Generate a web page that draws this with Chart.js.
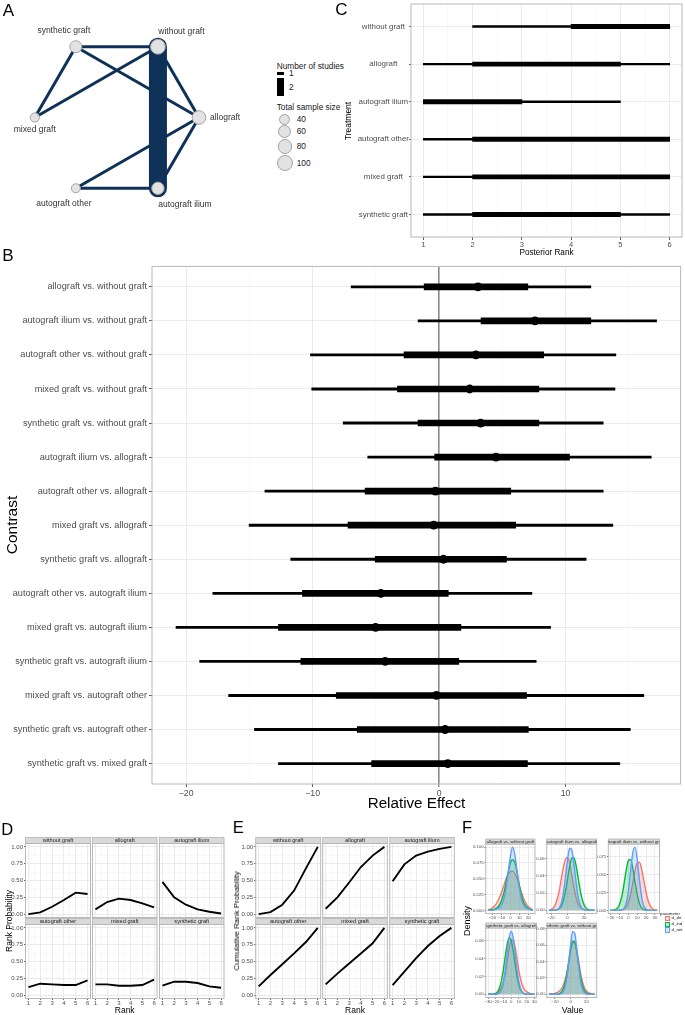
<!DOCTYPE html>
<html>
<head>
<meta charset="utf-8">
<script src="https://cdn.jsdelivr.net/npm/chart.js@4.4.1/dist/chart.umd.min.js"></script>
<style>
  html, body { margin:0; padding:0; background:#fff; }
  body { position:relative; width:685px; height:1015px; overflow:hidden; font-family:"Liberation Sans", Arial, sans-serif; }
  .box { position:absolute; }
  .box canvas { display:block; }
  .t { position:absolute; white-space:nowrap; line-height:1; transform:translate(-50%,-50%); color:#000; }
</style>
</head>
<body>
<script>
// ================= DATA =================
// Panel A: network
const nodeNames = ['allograft','without graft','synthetic graft','mixed graft','autograft other','autograft ilium'];
const nodeSampleSize = [95,110,75,40,38,80];
const edgeFrom = ['without graft','synthetic graft','synthetic graft','mixed graft','without graft','allograft','allograft','autograft other','without graft'];
const edgeTo   = ['synthetic graft','allograft','mixed graft','without graft','allograft','autograft ilium','autograft other','autograft ilium','autograft ilium'];
const edgeStudies = [1,1,1,1,1,1,1,1,2];
const legendStudies = [1,2];
const legendSampleSizes = [40,60,80,100];

// Panel B: relative effects
const contrasts = ['allograft vs. without graft','autograft ilium vs. without graft','autograft other vs. without graft','mixed graft vs. without graft','synthetic graft vs. without graft','autograft ilium vs. allograft','autograft other vs. allograft','mixed graft vs. allograft','synthetic graft vs. allograft','autograft other vs. autograft ilium','mixed graft vs. autograft ilium','synthetic graft vs. autograft ilium','mixed graft vs. autograft other','synthetic graft vs. autograft other','synthetic graft vs. mixed graft'];
const effLo95 = [-6.95,-1.66,-10.17,-10.07,-7.58,-5.64,-13.77,-15.02,-11.73,-17.89,-20.8,-18.93,-16.64,-14.6,-12.7];
const effLo80 = [-1.18,3.32,-2.77,-3.29,-1.66,-0.35,-5.85,-7.2,-5.05,-10.8,-12.7,-10.93,-8.13,-6.47,-5.33];
const effMed  = [3.08,7.58,2.91,2.42,3.29,4.5,-0.28,-0.42,0.35,-4.6,-5.02,-4.26,-0.21,0.48,0.69];
const effHi80 = [7.02,12.0,8.27,7.89,7.89,10.31,5.67,6.06,5.33,0.73,1.73,1.56,6.92,7.06,6.99];
const effHi95 = [12.0,17.2,13.98,13.91,12.98,16.78,12.98,13.74,11.63,7.34,8.82,7.68,16.19,15.12,14.29];
const effTicks = [-20,-10,0,10];

// Panel C: posterior rank intervals
const rankTreatments = ['without graft','allograft','autograft ilium','autograft other','mixed graft','synthetic graft'];
const rankLo95 = [2,1,1,1,1,1];
const rankHi95 = [6,6,5,6,6,6];
const rankLo50 = [4,2,1,2,2,2];
const rankHi50 = [6,5,3,6,6,5];
const rankTicks = [1,2,3,4,5,6];

// Panels D & E: rank probabilities
const facetTreatments = ['without graft','allograft','autograft ilium','autograft other','mixed graft','synthetic graft'];
const ranks = [1,2,3,4,5,6];
const probWithout   = [0.00,0.025,0.11,0.21,0.32,0.30];
const probAllograft = [0.07,0.18,0.23,0.21,0.16,0.10];
const probIlium     = [0.48,0.25,0.14,0.07,0.035,0.01];
const probOther     = [0.12,0.17,0.16,0.15,0.15,0.22];
const probMixed     = [0.16,0.16,0.14,0.14,0.15,0.23];
const probSynthetic = [0.14,0.20,0.20,0.18,0.13,0.11];
const cumWithout    = [0.00,0.03,0.14,0.35,0.68,1.00];
const cumAllograft  = [0.08,0.25,0.47,0.70,0.87,1.00];
const cumIlium      = [0.49,0.74,0.87,0.93,0.97,1.00];
const cumOther      = [0.13,0.30,0.46,0.62,0.79,1.00];
const cumMixed      = [0.16,0.32,0.47,0.62,0.77,1.00];
const cumSynthetic  = [0.15,0.35,0.55,0.73,0.88,1.00];
const probTicks = [0,0.25,0.5,0.75,1];

// Panel F: posterior densities (d_dir, d_ind, d_net)
const fParams = ['d_dir','d_ind','d_net'];
const f1x = [-25,-22.5,-20,-17.5,-15,-12.5,-10,-7.5,-5,-2.5,0,2.5,5,7.5,10,12.5,15,17.5,20,22.5,25];
const f1Dir = [0.001,0.002,0.004,0.007,0.012,0.019,0.028,0.038,0.049,0.057,0.061,0.062,0.058,0.050,0.039,0.028,0.018,0.011,0.006,0.003,0.001];
const f1Ind = [0,0.0005,0.001,0.002,0.004,0.008,0.015,0.026,0.042,0.060,0.075,0.080,0.076,0.060,0.040,0.023,0.012,0.006,0.003,0.001,0.0005];
const f1Net = [0,0,0.0005,0.001,0.002,0.004,0.008,0.017,0.033,0.058,0.085,0.100,0.088,0.062,0.035,0.017,0.008,0.004,0.002,0.001,0];
const f2x = [-22.5,-20,-17.5,-15,-12.5,-10,-7.5,-5,-2.5,0,2.5,5,7.5,10,12.5,15,17.5,20,22.5,25,27.5,30,32.5];
const f2Dir = [0.0003,0.0009,0.0024,0.006,0.013,0.023,0.037,0.050,0.059,0.061,0.054,0.041,0.027,0.016,0.008,0.004,0.002,0.001,0.0005,0.0002,0.0001,0,0];
const f2Ind = [0,0,0.0001,0.0002,0.0007,0.002,0.0053,0.0117,0.0223,0.0364,0.0507,0.0603,0.0612,0.0532,0.0394,0.0249,0.0135,0.0063,0.0025,0.0008,0.0002,0.0001,0];
const f2Net = [0,0,0,0.0002,0.0008,0.0029,0.0085,0.0202,0.0385,0.0587,0.0717,0.0701,0.0549,0.0344,0.0173,0.007,0.0022,0.0006,0.0001,0,0,0,0];
const f3x = [-20,-17.5,-15,-12.5,-10,-7.5,-5,-2.5,0,2.5,5,7.5,10,12.5,15,17.5,20,22.5,25,27.5,30,32.5];
const f3Dir = [0,0,0,0,0.0001,0.0005,0.0016,0.0045,0.0108,0.0221,0.0378,0.0545,0.0659,0.067,0.0574,0.0413,0.025,0.0127,0.0054,0.0019,0.0006,0.0002];
const f3Ind = [0,0.0002,0.0008,0.0028,0.0081,0.0189,0.0358,0.0553,0.0693,0.0708,0.0588,0.0397,0.0218,0.0097,0.0035,0.001,0.0003,0.0001,0,0,0,0];
const f3Net = [0,0,0,0,0.0001,0.0005,0.0025,0.0095,0.0264,0.0537,0.0802,0.088,0.0709,0.042,0.0182,0.0058,0.0014,0.0002,0,0,0,0];
const f4x = [-30,-27.5,-25,-22.5,-20,-17.5,-15,-12.5,-10,-7.5,-5,-2.5,0,2.5,5,7.5,10,12.5,15,17.5,20,22.5,25,27.5,30];
const f4Dir = [0.0002,0.0003,0.0004,0.0006,0.001,0.002,0.004,0.008,0.0145,0.0238,0.0376,0.0513,0.0604,0.0613,0.0536,0.0405,0.0264,0.016,0.009,0.005,0.003,0.0015,0.0008,0.0004,0.0002];
const f4Ind = [0,0,0.0001,0.0003,0.0011,0.0031,0.0076,0.016,0.0286,0.0437,0.0572,0.0638,0.0609,0.0496,0.0345,0.0205,0.0105,0.0045,0.0017,0.0005,0.0001,0,0,0,0];
const f4Net = [0,0,0,0,0.0001,0.0004,0.0017,0.0054,0.0136,0.028,0.047,0.064,0.071,0.064,0.047,0.028,0.0136,0.0054,0.0017,0.0004,0.0001,0,0,0,0];
const f5x = [-27.5,-25,-22.5,-20,-17.5,-15,-12.5,-10,-7.5,-5,-2.5,0,2.5,5,7.5,10,12.5,15,17.5,20,22.5,25,27.5,30];
const f5Dir = [0.0002,0.0004,0.0007,0.0012,0.002,0.0035,0.0055,0.0095,0.0165,0.026,0.0385,0.053,0.0625,0.0632,0.0548,0.0407,0.0256,0.015,0.008,0.004,0.002,0.001,0.0005,0.0002];
const f5Ind = [0,0,0,0,0.0001,0.0006,0.0019,0.0053,0.0123,0.0242,0.040,0.0557,0.0651,0.064,0.0528,0.0367,0.0214,0.0105,0.0044,0.0015,0.0004,0.0001,0,0];
const f5Net = [0,0,0,0,0,0.0001,0.0006,0.0024,0.0076,0.0194,0.039,0.0616,0.0765,0.0747,0.0573,0.0346,0.0164,0.0062,0.0018,0.0004,0.0001,0,0,0];

// ================= SETUP =================
const FONT = '"Liberation Sans", Arial, sans-serif';
Chart.defaults.font.family = FONT;
Chart.defaults.color = '#4d4d4d';
Chart.defaults.animation = false;
Chart.defaults.responsive = false;
Chart.defaults.maintainAspectRatio = false;
Chart.defaults.events = [];
Chart.defaults.plugins.legend.display = false;
Chart.defaults.plugins.tooltip.enabled = false;

Chart.register({
  id: 'panelBorder',
  afterDatasetsDraw(chart, args, opts) {
    if (!opts || !opts.color) return;
    const a = chart.chartArea, ctx = chart.ctx;
    ctx.save(); ctx.strokeStyle = opts.color; ctx.lineWidth = opts.width || 1;
    ctx.strokeRect(a.left, a.top, a.right - a.left, a.bottom - a.top);
    ctx.restore();
  }
});
Chart.register({
  id: 'strip',
  afterDraw(chart, args, opts) {
    if (!opts || !opts.text) return;
    const a = chart.chartArea, ctx = chart.ctx, h = opts.height;
    const x0 = a.left, y0 = a.top - h, w = a.right - a.left;
    ctx.save();
    ctx.fillStyle = '#d9d9d9'; ctx.fillRect(x0, y0, w, h);
    ctx.strokeStyle = '#b3b3b3'; ctx.lineWidth = 0.8; ctx.strokeRect(x0, y0, w, h);
    ctx.beginPath(); ctx.rect(x0, y0, w, h); ctx.clip();
    ctx.fillStyle = '#1a1a1a'; ctx.font = opts.size + 'px ' + FONT;
    ctx.textAlign = 'center'; ctx.textBaseline = 'middle';
    ctx.fillText(opts.text, x0 + w / 2, y0 + h / 2 + 0.3);
    ctx.restore();
  }
});

function mount(area, pad) {
  const cl = Math.floor(area.l - pad.l), ct = Math.floor(area.t - pad.t);
  const cr = Math.ceil(area.r + pad.r), cb = Math.ceil(area.b + pad.b);
  const div = document.createElement('div'); div.className = 'box';
  div.style.left = cl + 'px'; div.style.top = ct + 'px';
  const cv = document.createElement('canvas');
  cv.width = cr - cl; cv.height = cb - ct;
  cv.style.width = (cr - cl) + 'px'; cv.style.height = (cb - ct) + 'px';
  div.appendChild(cv); document.body.appendChild(div);
  return { cv, yW: area.l - cl, top: area.t - ct, right: cr - area.r, xH: cb - area.b };
}
function near(list, v) { return list.some(m => Math.abs(m - v) < 1e-9); }
function minorOf(major, min, max) {
  const step = major[1] - major[0], out = [];
  for (let v = major[0] - step / 2; v <= max + 1e-9; v += step) if (v >= min - 1e-9) out.push(+v.toFixed(6));
  return out;
}
function fmtNum(v) { return v < 0 ? '\u2212' + Math.abs(v) : String(v); }

function axis(o) {
  const all = o.major.concat(o.minor || []).sort((a, b) => a - b);
  const lab = typeof o.labels === 'function' ? o.labels : null;
  return {
    type: 'linear', min: o.min, max: o.max, reverse: !!o.reverse,
    offset: false, beginAtZero: false,
    afterBuildTicks: s => { s.ticks = all.map(v => ({ value: v })); },
    afterFit: s => {
      if (s.isHorizontal()) s.height = o.size; else s.width = o.size;
      s.paddingLeft = 0; s.paddingRight = 0; s.paddingTop = 0; s.paddingBottom = 0;
    },
    border: { display: false },
    grid: {
      offset: false,
      color: c => o.gridColor ? o.gridColor(c.tick.value) : (near(o.major, c.tick.value) ? '#e6e6e6' : '#f3f3f3'),
      lineWidth: c => o.gridWidth ? o.gridWidth(c.tick.value) : (near(o.major, c.tick.value) ? 0.8 : 0.5),
      drawTicks: !!lab && (o.tickLen || 0) > 0,
      tickLength: o.tickLen || 0,
      tickColor: c => near(o.major, c.tick.value) ? '#333333' : 'rgba(0,0,0,0)',
      tickWidth: 0.8
    },
    ticks: {
      display: !!lab, autoSkip: false, maxRotation: 0, minRotation: 0,
      padding: o.pad || 0, crossAlign: o.crossAlign || 'near',
      font: { size: o.font || 6 }, color: '#4d4d4d',
      callback: v => (lab && near(o.major, v)) ? lab(v) : ''
    }
  };
}
function plot(area, pad, xo, yo, datasets, plugins) {
  const m = mount(area, pad);
  xo.size = m.xH; yo.size = m.yW;
  return new Chart(m.cv, {
    type: 'scatter',
    data: { datasets },
    options: {
      devicePixelRatio: 1,
      layout: { padding: { left: 0, top: m.top, right: m.right, bottom: 0 } },
      scales: { x: axis(xo), y: axis(yo) },
      plugins: Object.assign({ legend: { display: false }, tooltip: { enabled: false },
        panelBorder: { color: '#b8b8b8', width: 1 } }, plugins || {})
    }
  });
}
function text(str, x, y, size, opt) {
  opt = opt || {};
  const d = document.createElement('div'); d.className = 't'; d.textContent = str;
  d.style.left = x + 'px'; d.style.top = y + 'px'; d.style.fontSize = size + 'px';
  if (opt.rotate) d.style.transform = 'translate(-50%,-50%) rotate(-90deg)';
  if (opt.left) d.style.transform = 'translate(0,-50%)';
  if (opt.color) d.style.color = opt.color;
  document.body.appendChild(d);
  return d;
}

// ================= PANEL A =================
const EDGE = '#0e3158';
const nodeRadius = n => 3 + 0.04 * n;
const edgeWidth = s => 3 + 15 * (s - 1);
const labelPlacement = {
  'allograft': { dx: 11, dy: 0.5, align: 'left' },
  'without graft': { dx: 23.5, dy: -14.7, align: 'center' },
  'synthetic graft': { dx: -12, dy: -15.7, align: 'center' },
  'mixed graft': { dx: 0, dy: 12.5, align: 'center' },
  'autograft other': { dx: -12, dy: 15.7, align: 'center' },
  'autograft ilium': { dx: 27, dy: 16.7, align: 'center' }
};
(function () {
  const m = mount({ l: 0, t: 0, r: 250, b: 235 }, { l: 0, t: 0, r: 0, b: 0 });
  const nx = nodeNames.map((_, i) => Math.cos(i * Math.PI / 3));
  const ny = nodeNames.map((_, i) => Math.sin(i * Math.PI / 3));
  const idx = name => nodeNames.indexOf(name);
  const datasets = [{
    type: 'scatter',
    data: nodeNames.map((_, i) => ({ x: nx[i], y: ny[i] })),
    pointRadius: nodeSampleSize.map(nodeRadius),
    pointBackgroundColor: '#e2e2e2', pointBorderColor: '#a3a3a3', pointBorderWidth: 1, order: 0
  }];
  edgeFrom.forEach((f, k) => {
    const a = idx(f), b = idx(edgeTo[k]);
    datasets.push({
      type: 'line', data: [{ x: nx[a], y: ny[a] }, { x: nx[b], y: ny[b] }],
      borderColor: EDGE, borderWidth: edgeWidth(edgeStudies[k]),
      borderCapStyle: edgeStudies[k] > 1 ? 'round' : 'butt',
      pointRadius: 0, fill: false, order: edgeStudies[k] > 1 ? 1 : 2
    });
  });
  new Chart(m.cv, {
    type: 'scatter',
    data: { datasets },
    options: {
      devicePixelRatio: 1,
      layout: { padding: 0 },
      scales: {
        x: { type: 'linear', display: false, min: -116.3 / 88, max: (250 - 116.3) / 88 },
        y: { type: 'linear', display: false, min: -1.335, max: 1.335 }
      }
    },
    plugins: [{
      id: 'nodeLabels',
      afterDatasetsDraw(chart) {
        const { ctx, scales: { x, y } } = chart;
        ctx.save(); ctx.font = '8.5px ' + FONT; ctx.fillStyle = '#333'; ctx.textBaseline = 'middle';
        nodeNames.forEach((name, i) => {
          const p = labelPlacement[name];
          ctx.textAlign = p.align;
          ctx.fillText(name, x.getPixelForValue(nx[i]) + p.dx, y.getPixelForValue(ny[i]) + p.dy);
        });
        ctx.restore();
      }
    }]
  });
  // legend
  text('Number of studies', 276.7, 66, 8.3, { left: true, color: '#1a1a1a' });
  const keyY = [73.8, 86.7];
  const keyLabY = [72.6, 86.7];
  legendStudies.forEach((s, i) => {
    const d = document.createElement('div'); d.className = 'box';
    const h = edgeWidth(s);
    Object.assign(d.style, { left: '277.3px', top: (keyY[i] - h / 2) + 'px', width: '6.7px', height: h + 'px', background: '#000' });
    document.body.appendChild(d);
    text(String(s), 289, keyLabY[i], 8.3, { left: true, color: '#1a1a1a' });
  });
  text('Total sample size', 276.7, 106.7, 8.3, { left: true, color: '#1a1a1a' });
  const circY = [118.7, 130.9, 146, 162.7];
  legendSampleSizes.forEach((n, i) => {
    const r = nodeRadius(n);
    const d = document.createElement('div'); d.className = 'box';
    Object.assign(d.style, { left: (284.3 - r - 0.5) + 'px', top: (circY[i] - r - 0.5) + 'px', width: (2 * r) + 'px', height: (2 * r) + 'px',
      borderRadius: '50%', background: '#e2e2e2', border: '1px solid #a3a3a3' });
    document.body.appendChild(d);
    text(String(n), 296.7, circY[i], 8.3, { left: true, color: '#1a1a1a' });
  });
})();

// ================= PANEL C =================
(function () {
  const rows = rankTreatments.map((_, i) => i);
  plot({ l: 411, t: 4, r: 682, b: 237 }, { l: 71, t: 4, r: 3, b: 14 },
    { min: 0.75, max: 6.25, major: rankTicks, minor: [1.5, 2.5, 3.5, 4.5, 5.5], labels: v => String(v), font: 7.5, tickLen: 3, pad: 0 },
    { min: -0.6, max: 5.6, reverse: true, major: rows, minor: [], labels: v => rankTreatments[v], font: 7.9, tickLen: 2, pad: 0, crossAlign: 'center' },
    [
      { type: 'bar', indexAxis: 'y', grouped: false, barThickness: 4.3, backgroundColor: '#000',
        data: rows.map(i => ({ x: [rankLo50[i], rankHi50[i]], y: i })), order: 0 },
      { type: 'bar', indexAxis: 'y', grouped: false, barThickness: 1.8, backgroundColor: '#000',
        data: rows.map(i => ({ x: [rankLo95[i], rankHi95[i]], y: i })), order: 1 }
    ]);
})();

// ================= PANEL B =================
(function () {
  const rows = contrasts.map((_, i) => i);
  plot({ l: 152, t: 265, r: 681, b: 784 }, { l: 152, t: 3, r: 4, b: 16 },
    { min: -22.7, max: 19.1, major: effTicks, minor: [-15, -5, 5, 15], labels: fmtNum, font: 8.7, tickLen: 3, pad: 1,
      gridColor: v => v === 0 ? '#8a8a8a' : (near(effTicks, v) ? '#e6e6e6' : '#f3f3f3'),
      gridWidth: v => v === 0 ? 1.6 : (near(effTicks, v) ? 0.8 : 0.5) },
    { min: -0.6, max: 14.6, reverse: true, major: rows, minor: [], labels: v => contrasts[v], font: 9.2, tickLen: 3, pad: 2 },
    [
      { type: 'scatter', data: effMed.map((v, i) => ({ x: v, y: i })), pointRadius: 4.4,
        pointBackgroundColor: '#000', pointBorderColor: '#000', pointBorderWidth: 0, order: 0 },
      { type: 'bar', indexAxis: 'y', grouped: false, barThickness: 6, backgroundColor: '#000',
        data: rows.map(i => ({ x: [effLo80[i], effHi80[i]], y: i })), order: 1 },
      { type: 'bar', indexAxis: 'y', grouped: false, barThickness: 2.2, backgroundColor: '#000',
        data: rows.map(i => ({ x: [effLo95[i], effHi95[i]], y: i })), order: 2 }
    ]);
})();

// ================= PANELS D & E =================
const rowsDE = [{ t: 843.5, b: 917.5 }, { t: 924.5, b: 998.5 }];
function rankPanel(cols, yAxisW, seriesList) {
  seriesList.forEach((vals, k) => {
    const row = Math.floor(k / 3), col = k % 3;
    const area = { l: cols[col].l, r: cols[col].r, t: rowsDE[row].t, b: rowsDE[row].b };
    const pad = { l: col === 0 ? yAxisW : 0, t: 7, r: 1, b: row === 1 ? 16.5 : 1 };
    plot(area, pad,
      { min: 0.75, max: 6.25, major: ranks, minor: [1.5, 2.5, 3.5, 4.5, 5.5], labels: row === 1 ? (v => String(v)) : null, font: 6, tickLen: 1.5, pad: 0 },
      { min: -0.05, max: 1.05, major: probTicks, minor: [0.125, 0.375, 0.625, 0.875], labels: col === 0 ? (v => v.toFixed(2)) : null, font: 6, tickLen: 1.5, pad: 1 },
      [{ type: 'line', data: ranks.map((r, i) => ({ x: r, y: vals[i] })), borderColor: '#000', borderWidth: 1.9,
         pointRadius: 0, fill: false, tension: 0 }],
      { strip: { text: facetTreatments[k], height: 6, size: 5.6 } });
  });
}
rankPanel([{ l: 25.5, r: 90.5 }, { l: 92.5, r: 157 }, { l: 159.5, r: 224 }], 25.5,
  [probWithout, probAllograft, probIlium, probOther, probMixed, probSynthetic]);
rankPanel([{ l: 255.7, r: 320.7 }, { l: 322.7, r: 387.3 }, { l: 389.7, r: 454.3 }], 18,
  [cumWithout, cumAllograft, cumIlium, cumOther, cumMixed, cumSynthetic]);

// ================= PANEL F =================
const paramLine = ['#F8766D', '#00BA38', '#619CFF'];
const paramFill = ['rgba(248,118,109,0.25)', 'rgba(0,186,56,0.25)', 'rgba(97,156,255,0.25)'];
const fFacets = [
  { name: 'allograft vs. without graft', l: 485.7, r: 535, t: 844, b: 913.5, padL: 14, xmin: -27.5, xmax: 27.5, xt: [-20, -10, 0, 10, 20],
    ymin: -0.005, ymax: 0.105, yt: [0, 0.025, 0.05, 0.075, 0.1], dec: 3, x: f1x, s: [f1Dir, f1Ind, f1Net] },
  { name: 'autograft ilium vs. allograft', l: 546.7, r: 596.7, t: 844, b: 913.5, padL: 11, xmin: -25.25, xmax: 35.25, xt: [-20, 0, 20],
    ymin: -0.0037, ymax: 0.0767, yt: [0, 0.02, 0.04, 0.06], dec: 2, x: f2x, s: [f2Dir, f2Ind, f2Net] },
  { name: 'autograft ilium vs. without graft', l: 608.3, r: 659.5, t: 844, b: 913.5, padL: 11, xmin: -22.6, xmax: 35.1, xt: [-20, -10, 0, 10, 20, 30],
    ymin: -0.0044, ymax: 0.0924, yt: [0, 0.025, 0.05, 0.075], dec: 3, x: f3x, s: [f3Dir, f3Ind, f3Net] },
  { name: 'synthetic graft vs. allograft', l: 485.7, r: 536.7, t: 928, b: 997.5, padL: 14, xmin: -33, xmax: 33, xt: [-30, -20, -10, 0, 10, 20, 30],
    ymin: -0.0036, ymax: 0.0746, yt: [0, 0.02, 0.04, 0.06], dec: 2, x: f4x, s: [f4Dir, f4Ind, f4Net] },
  { name: 'synthetic graft vs. without graft', l: 546.7, r: 596.7, t: 928, b: 997.5, padL: 11, xmin: -30.4, xmax: 32.9, xt: [-20, 0, 20],
    ymin: -0.0039, ymax: 0.081, yt: [0, 0.02, 0.04, 0.06, 0.08], dec: 2, x: f5x, s: [f5Dir, f5Ind, f5Net] }
];
fFacets.forEach(f => {
  plot({ l: f.l, r: f.r, t: f.t, b: f.b }, { l: f.padL, t: 6, r: 1, b: f.t > 900 ? 10 : 8 },
    { min: f.xmin, max: f.xmax, major: f.xt, minor: minorOf(f.xt, f.xmin, f.xmax), labels: fmtNum, font: 4.3, tickLen: 1.2, pad: 0.3 },
    { min: f.ymin, max: f.ymax, major: f.yt, minor: minorOf(f.yt, f.ymin, f.ymax), labels: v => v.toFixed(f.dec), font: 4.3, tickLen: 1.2, pad: 0.8 },
    f.s.map((vals, p) => ({
      type: 'line', data: f.x.map((xv, i) => ({ x: xv, y: vals[i] })),
      borderColor: paramLine[p], backgroundColor: paramFill[p], borderWidth: 1.4,
      fill: 'origin', pointRadius: 0, cubicInterpolationMode: 'monotone', order: 3 - p
    })),
    { strip: { text: f.name, height: 5, size: 4.4 } });
});
// F legend
text('parameter', 660, 913.8, 4.4, { left: true, color: '#1a1a1a' });
[918.3, 924, 929.5].forEach((y, p) => {
  const d = document.createElement('div'); d.className = 'box';
  Object.assign(d.style, { left: '664.8px', top: (y - 2.4) + 'px', width: '3.6px', height: '3.6px',
    border: '0.8px solid ' + paramLine[p], background: paramFill[p] });
  document.body.appendChild(d);
  text(fParams[p], 671.5, y, 4.4, { left: true, color: '#1a1a1a' });
});

// ================= TITLES =================
text('A', 8.5, 10, 17);
text('B', 8, 254.5, 17);
text('C', 341.5, 9, 17);
text('D', 7.2, 828.8, 16.5);
text('E', 238.3, 827, 16.5);
text('F', 467, 827, 16.5);
text('Contrast', 12, 524.5, 15.5, { rotate: true });
text('Relative Effect', 416.5, 803, 15.2);
text('Treatment', 347.5, 120.5, 8.5, { rotate: true });
text('Posterior Rank', 546.5, 253, 8.2);
text('Rank Probability', 9, 921, 8.5, { rotate: true });
text('Rank', 124.7, 1010, 8.5);
text('Cumulative Rank Probability', 236.7, 921, 7.9, { rotate: true });
text('Rank', 355, 1010, 8.5);
text('Density', 466.7, 920.7, 9, { rotate: true });
text('Value', 572.6, 1010, 8.8);
</script>
</body>
</html>
